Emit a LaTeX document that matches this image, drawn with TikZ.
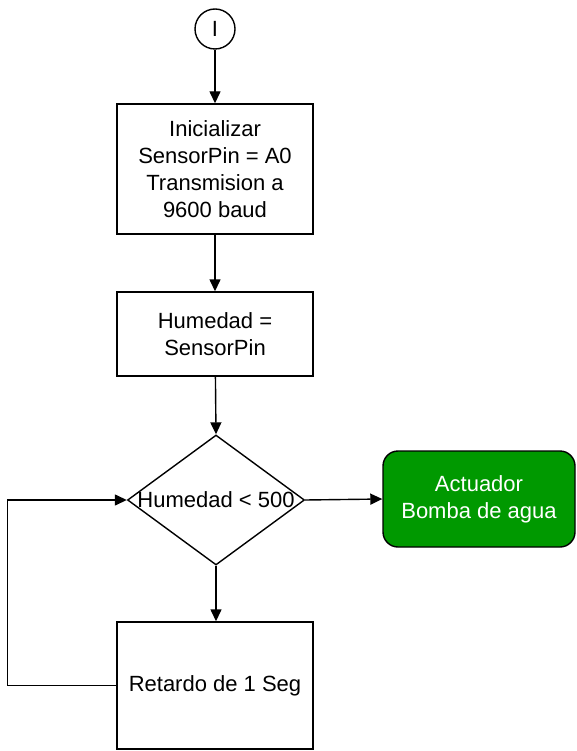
\documentclass[tikz,border=0pt]{standalone}
\usepackage{fontspec}
\setmainfont{Liberation Sans}
\usetikzlibrary{shapes.geometric,arrows.meta}
\definecolor{actgreen}{RGB}{0,153,0}
\begin{document}
\begin{tikzpicture}[x=1pt,y=1pt,
  every node/.style={font=\fontsize{22}{27}\selectfont},
  proc/.style={draw, line width=1.4pt, minimum width=196pt, align=center, inner sep=0pt},
  arr/.style={line width=1.4pt, -{Triangle[length=12pt,width=11pt]}},
  ln/.style={line width=1.4pt}]
\useasboundingbox (0,0) rectangle (576,-751);
\node[circle, draw, line width=1.4pt, minimum size=40pt, inner sep=0pt] (s) at (215,-29) {I};
\node[proc, minimum height=130pt] (a) at (215,-169) {Inicializar\\SensorPin = A0\\Transmision a\\9600 baud};
\node[proc, minimum height=84pt] (b) at (215,-334) {Humedad =\\SensorPin};
\node[diamond, draw, line width=1.4pt, minimum width=177pt, minimum height=130pt, inner sep=0pt] (d) at (216,-500) {};
\node (dt) at (d.center) {Humedad < 500};
\node[draw, line width=1.4pt, fill=actgreen, rounded corners=15pt, minimum width=192pt, minimum height=96pt, align=center, text=white] (g) at (479,-499) {Actuador\\Bomba de agua};
\node[proc, minimum height=127pt] (r) at (215,-685.5) {Retardo de 1 Seg};
\draw[arr] (s) -- (a);
\draw[arr] (a) -- (b);
\draw[arr] (b) -- (d.north);
\draw[arr] (d.east) -- (g.west);
\draw[arr] (d.south) -- (r.north -| d.south);
\draw[arr] (r.west) -- ++(-109,0) |- (d.west);
\end{tikzpicture}
\end{document}
